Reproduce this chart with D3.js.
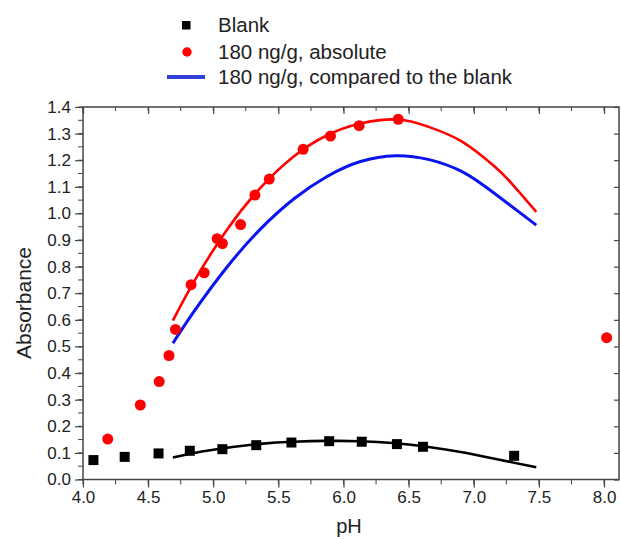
<!DOCTYPE html>
<html><head><meta charset="utf-8">
<script src="https://cdn.jsdelivr.net/npm/d3@7"></script>
<style>body{margin:0;background:#fff}svg{display:block}text{font-family:"Liberation Sans",Arial,sans-serif;fill:#222}</style>
</head><body><svg id="c" width="621" height="539"></svg>
<script>
// ---- data ----
const blankX = [4.08, 4.32, 4.58, 4.82, 5.07, 5.33, 5.60, 5.89, 6.14, 6.41, 6.61, 7.31];
const blankY = [0.073, 0.085, 0.098, 0.108, 0.114, 0.129, 0.139, 0.144, 0.142, 0.133, 0.123, 0.089];
const absX = [4.19, 4.44, 4.585, 4.66, 4.71, 4.83, 4.93, 5.03, 5.07, 5.21, 5.32, 5.43, 5.69, 5.90, 6.12, 6.42, 8.02];
const absY = [0.152, 0.280, 0.368, 0.466, 0.564, 0.732, 0.777, 0.905, 0.887, 0.958, 1.069, 1.129, 1.241, 1.291, 1.330, 1.354, 0.533];
const fitAbsX = [4.69, 4.85, 5.10, 5.36, 5.62, 5.87, 6.13, 6.42, 6.65, 6.91, 7.16, 7.29, 7.48];
const fitAbsY = [0.597, 0.742, 0.935, 1.095, 1.215, 1.293, 1.338, 1.353, 1.326, 1.270, 1.176, 1.113, 1.006];
const fitCmpX = [4.69, 4.85, 5.10, 5.36, 5.62, 5.87, 6.13, 6.40, 6.65, 6.91, 7.16, 7.48];
const fitCmpY = [0.512, 0.630, 0.795, 0.940, 1.055, 1.138, 1.195, 1.217, 1.203, 1.157, 1.075, 0.956];
const fitBlankX = [4.69, 4.975, 5.36, 5.615, 5.87, 6.127, 6.40, 6.64, 6.90, 7.15, 7.48];
const fitBlankY = [0.083, 0.110, 0.134, 0.142, 0.145, 0.144, 0.136, 0.123, 0.103, 0.079, 0.046];
const xTicks = [4.0, 4.5, 5.0, 5.5, 6.0, 6.5, 7.0, 7.5, 8.0];
const yTicks = [0.0, 0.1, 0.2, 0.3, 0.4, 0.5, 0.6, 0.7, 0.8, 0.9, 1.0, 1.1, 1.2, 1.3, 1.4];
const legendLabels = ["Blank", "180 ng/g, absolute", "180 ng/g, compared to the blank"];

const svg = d3.select("#c");
const L = 83, R = 619, T = 107, B = 479.5;
const x = d3.scaleLinear().domain([4.0, 8.115]).range([L, R]);
const y = d3.scaleLinear().domain([0, 1.4]).range([B, T]);
const axisCol = "#444";

// frame
svg.append("rect").attr("x", L).attr("y", T).attr("width", R - L).attr("height", B - T)
  .attr("fill", "none").attr("stroke", axisCol).attr("stroke-width", 1.5);

const minorX = d3.range(4.0, 8.01, 0.25);
const minorY = d3.range(0, 1.401, 0.05);

// bottom axis
const gx = svg.append("g").attr("transform", `translate(0,${B})`)
  .call(d3.axisBottom(x).tickValues(xTicks).tickFormat(d3.format(".1f")).tickSize(8).tickPadding(3));
gx.append("g").selectAll("line").data(minorX).join("line")
  .attr("x1", d => x(d)).attr("x2", d => x(d)).attr("y1", 0).attr("y2", 5).attr("stroke", axisCol);
// left axis
const gy = svg.append("g").attr("transform", `translate(${L},0)`)
  .call(d3.axisLeft(y).tickValues(yTicks).tickFormat(d3.format(".1f")).tickSize(8).tickPadding(4));
gy.append("g").selectAll("line").data(minorY).join("line")
  .attr("y1", d => y(d)).attr("y2", d => y(d)).attr("x1", 0).attr("x2", -5).attr("stroke", axisCol);
// top axis (inward)
const gt = svg.append("g").attr("transform", `translate(0,${T})`)
  .call(d3.axisTop(x).tickValues(xTicks).tickFormat("").tickSize(-7));
gt.append("g").selectAll("line").data(minorX).join("line")
  .attr("x1", d => x(d)).attr("x2", d => x(d)).attr("y1", 0).attr("y2", 4).attr("stroke", axisCol);
// right axis (inward)
svg.append("g").attr("transform", `translate(${R},0)`)
  .call(d3.axisRight(y).tickValues(yTicks).tickFormat("").tickSize(-5));

svg.selectAll(".domain").remove();
svg.selectAll(".tick line").attr("stroke", axisCol).attr("stroke-width", 1.2);
gx.selectAll(".tick text").style("font-size", "17px").attr("fill", "#222");
gy.selectAll(".tick text").style("font-size", "17px").attr("fill", "#222");

// axis titles
svg.append("text").attr("x", 349).attr("y", 533).attr("text-anchor", "middle")
  .style("font-size", "20px").text("pH");
svg.append("text").attr("transform", `translate(31,303) rotate(-90)`)
  .attr("text-anchor", "middle").style("font-size", "21px").text("Absorbance");

// curves
const line = d3.line().curve(d3.curveNatural);
const curves = svg.append("g");
curves.append("path").attr("d", line(fitBlankX.map((d, i) => [x(d), y(fitBlankY[i])])))
  .attr("fill", "none").attr("stroke", "#000").attr("stroke-width", 2.6);
curves.append("path").attr("d", line(fitCmpX.map((d, i) => [x(d), y(fitCmpY[i])])))
  .attr("fill", "none").attr("stroke", "#0a14f0").attr("stroke-width", 3);
curves.append("path").attr("d", line(fitAbsX.map((d, i) => [x(d), y(fitAbsY[i])])))
  .attr("fill", "none").attr("stroke", "#ff0000").attr("stroke-width", 2.6);

// points
const sq = 10;
svg.append("g").selectAll("rect").data(blankX).join("rect")
  .attr("x", (d) => x(d) - sq / 2).attr("y", (d, i) => y(blankY[i]) - sq / 2)
  .attr("width", sq).attr("height", sq).attr("fill", "#000");
svg.append("g").selectAll("circle").data(absX).join("circle")
  .attr("cx", d => x(d)).attr("cy", (d, i) => y(absY[i])).attr("r", 5.5).attr("fill", "#ff0000");

// legend
const lg = svg.append("g");
const ly = [25, 52, 77];
lg.append("rect").attr("x", 182).attr("y", ly[0] - 4).attr("width", 8.5).attr("height", 8.5).attr("fill", "#000");
lg.append("circle").attr("cx", 187).attr("cy", ly[1]).attr("r", 4.7).attr("fill", "#ff0000");
lg.append("line").attr("x1", 167).attr("x2", 205).attr("y1", ly[2]).attr("y2", ly[2])
  .attr("stroke", "#3340d8").attr("stroke-width", 4);
lg.selectAll("text").data(legendLabels).join("text")
  .attr("x", 218).attr("y", (d, i) => ly[i]).attr("dy", "0.35em")
  .style("font-size", "20.5px").text(d => d);
</script></body></html>
